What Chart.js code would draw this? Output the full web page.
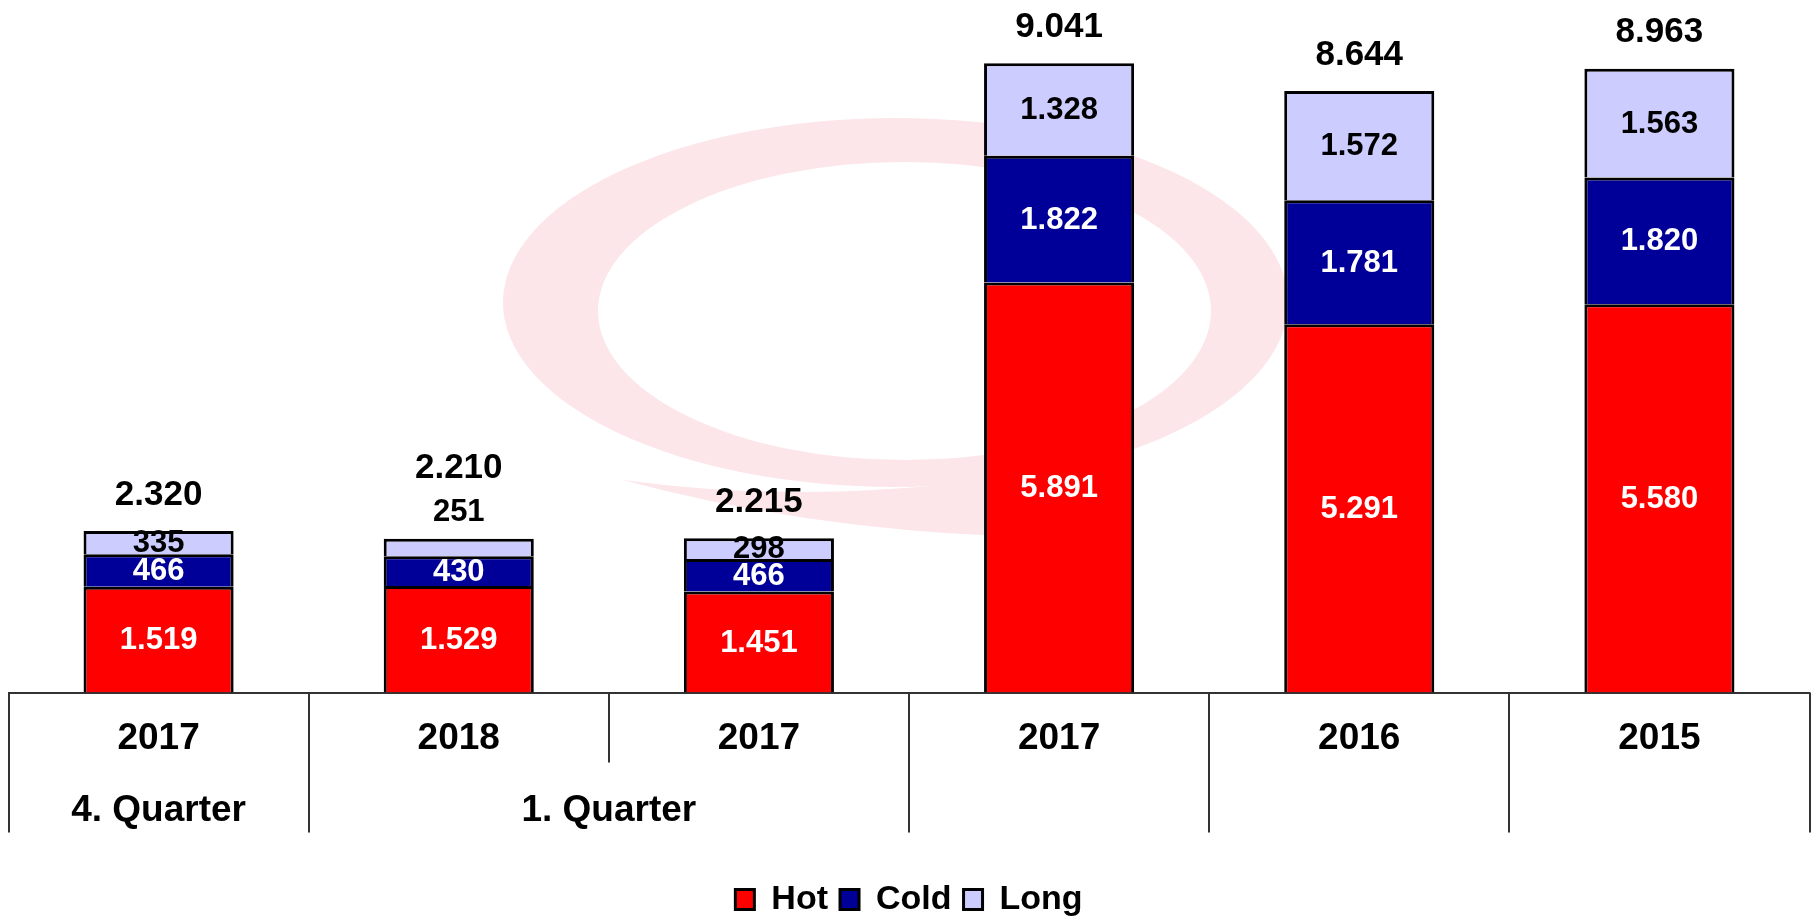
<!DOCTYPE html>
<html>
<head>
<meta charset="utf-8">
<script src="https://cdn.jsdelivr.net/npm/chart.js@4.4.1/dist/chart.umd.min.js"></script>
<style>
  html, body { margin: 0; padding: 0; background: #ffffff; }
  #wrap { width: 1811px; height: 917px; }
</style>
</head>
<body>
<div id="wrap"><canvas id="chart" width="1811" height="917"></canvas></div>
<script>
// ---- data ----
const categories = ['2017', '2018', '2017', '2017', '2016', '2015'];
const hotValues  = [1519, 1529, 1451, 5891, 5291, 5580];
const coldValues = [466, 430, 466, 1822, 1781, 1820];
const longValues = [335, 251, 298, 1328, 1572, 1563];
const totalValues = [2320, 2210, 2215, 9041, 8644, 8963];
const quarterLabels = ['4. Quarter', '1. Quarter'];
const quarterSpans = [[0, 0], [1, 2]];
const longLabelOutside = [false, true, false, false, false, false];

const FONT = "'Liberation Sans', Arial, Helvetica, sans-serif";
Chart.defaults.font.family = FONT;

function fmt(v) {
  return String(v).replace(/\B(?=(\d{3})+(?!\d))/g, '.');
}

// faint logo watermark behind the bars (decoration only)
const watermark = {
  id: 'watermark',
  beforeDatasetsDraw(chart) {
    const ctx = chart.ctx;
    ctx.save();
    ctx.fillStyle = 'rgb(252,230,233)';
    ctx.beginPath();
    ctx.ellipse(895.5, 302.5, 392.5, 184.5, 0, 0, Math.PI * 2);
    ctx.ellipse(904.5, 311, 306.5, 149, 0, 0, Math.PI * 2);
    ctx.fill('evenodd');
    // tail of the swoosh
    ctx.beginPath();
    ctx.moveTo(623, 480);
    ctx.quadraticCurveTo(800, 505, 1000, 478);
    ctx.lineTo(1000, 536);
    ctx.quadraticCurveTo(800, 528, 623, 480);
    ctx.closePath();
    ctx.fill();
    ctx.restore();
  }
};

// value labels inside segments and totals on top
const valueLabels = {
  id: 'valueLabels',
  afterDatasetsDraw(chart) {
    const ctx = chart.ctx;
    ctx.save();
    ctx.textAlign = 'center';
    ctx.textBaseline = 'middle';
    const colors = ['#ffffff', '#ffffff', '#000000'];
    chart.data.datasets.forEach((ds, d) => {
      const meta = chart.getDatasetMeta(d);
      meta.data.forEach((el, i) => {
        const p = el.getProps(['x', 'y', 'base'], true);
        let cy = (p.y + p.base) / 2;
        let color = colors[d];
        if (d === 2 && longLabelOutside[i]) {
          cy = p.y - 27;
          color = '#000000';
        }
        ctx.font = 'bold 31px ' + FONT;
        ctx.fillStyle = color;
        ctx.fillText(fmt(ds.data[i]), p.x, cy + 1);
      });
    });
    const topMeta = chart.getDatasetMeta(chart.data.datasets.length - 1);
    topMeta.data.forEach((el, i) => {
      const p = el.getProps(['x', 'y'], true);
      const off = longLabelOutside[i] ? 71 : 37;
      ctx.font = 'bold 35px ' + FONT;
      ctx.fillStyle = '#000000';
      ctx.fillText(fmt(totalValues[i]), p.x, p.y - off + 1);
    });
    ctx.restore();
  }
};

// category table: divider lines and quarter labels
const categoryTable = {
  id: 'categoryTable',
  afterDraw(chart) {
    const ctx = chart.ctx;
    const xs = chart.scales.x;
    const area = chart.chartArea;
    const n = categories.length;
    const px = i => xs.getPixelForValue(i);
    const boundary = b => b === 0 ? area.left : (b === n ? area.right : (px(b - 1) + px(b)) / 2);
    ctx.save();
    ctx.strokeStyle = '#333333';
    ctx.lineWidth = 2;
    for (let b = 0; b <= n; b++) {
      const inside = quarterSpans.some(s => b > s[0] && b <= s[1]);
      const yEnd = inside ? area.bottom + 70 : area.bottom + 140;
      const x = Math.round(boundary(b));
      ctx.beginPath();
      ctx.moveTo(x, area.bottom);
      ctx.lineTo(x, yEnd);
      ctx.stroke();
    }
    ctx.fillStyle = '#000000';
    ctx.font = 'bold 37px ' + FONT;
    ctx.textAlign = 'center';
    ctx.textBaseline = 'middle';
    quarterSpans.forEach((s, k) => {
      const cx = (boundary(s[0]) + boundary(s[1] + 1)) / 2;
      ctx.fillText(quarterLabels[k], cx, area.bottom + 118);
    });
    ctx.restore();
  }
};

new Chart(document.getElementById('chart'), {
  type: 'bar',
  data: {
    labels: categories,
    datasets: [
      { label: 'Hot', data: hotValues, backgroundColor: '#ff0000', borderColor: '#000000', borderWidth: 3 },
      { label: 'Cold', data: coldValues, backgroundColor: '#000099', borderColor: '#000000', borderWidth: 3 },
      { label: 'Long', data: longValues, backgroundColor: '#ccccff', borderColor: '#000000', borderWidth: 3 }
    ]
  },
  options: {
    responsive: false,
    devicePixelRatio: 1,
    animation: false,
    categoryPercentage: 1.0,
    barPercentage: 0.5,
    layout: { padding: { left: 8.5, right: 1.5, top: 0, bottom: -9.5 } },
    plugins: {
      tooltip: { enabled: false },
      legend: {
        position: 'bottom',
        labels: {
          color: '#000000',
          font: { size: 34, weight: 'bold', family: FONT },
          boxWidth: 19,
          boxHeight: 20,
          padding: 12
        }
      }
    },
    scales: {
      x: {
        stacked: true,
        grid: { display: false, drawTicks: false },
        border: { display: true, color: '#333333', width: 2 },
        ticks: {
          color: '#000000',
          font: { size: 37, weight: 'bold', family: FONT },
          padding: 24,
          maxRotation: 0,
          autoSkip: false
        },
        afterFit(scale) { scale.height = 178; }
      },
      y: {
        stacked: true,
        display: false,
        min: 0,
        max: 9950
      }
    }
  },
  plugins: [watermark, valueLabels, categoryTable]
});
</script>
</body>
</html>
